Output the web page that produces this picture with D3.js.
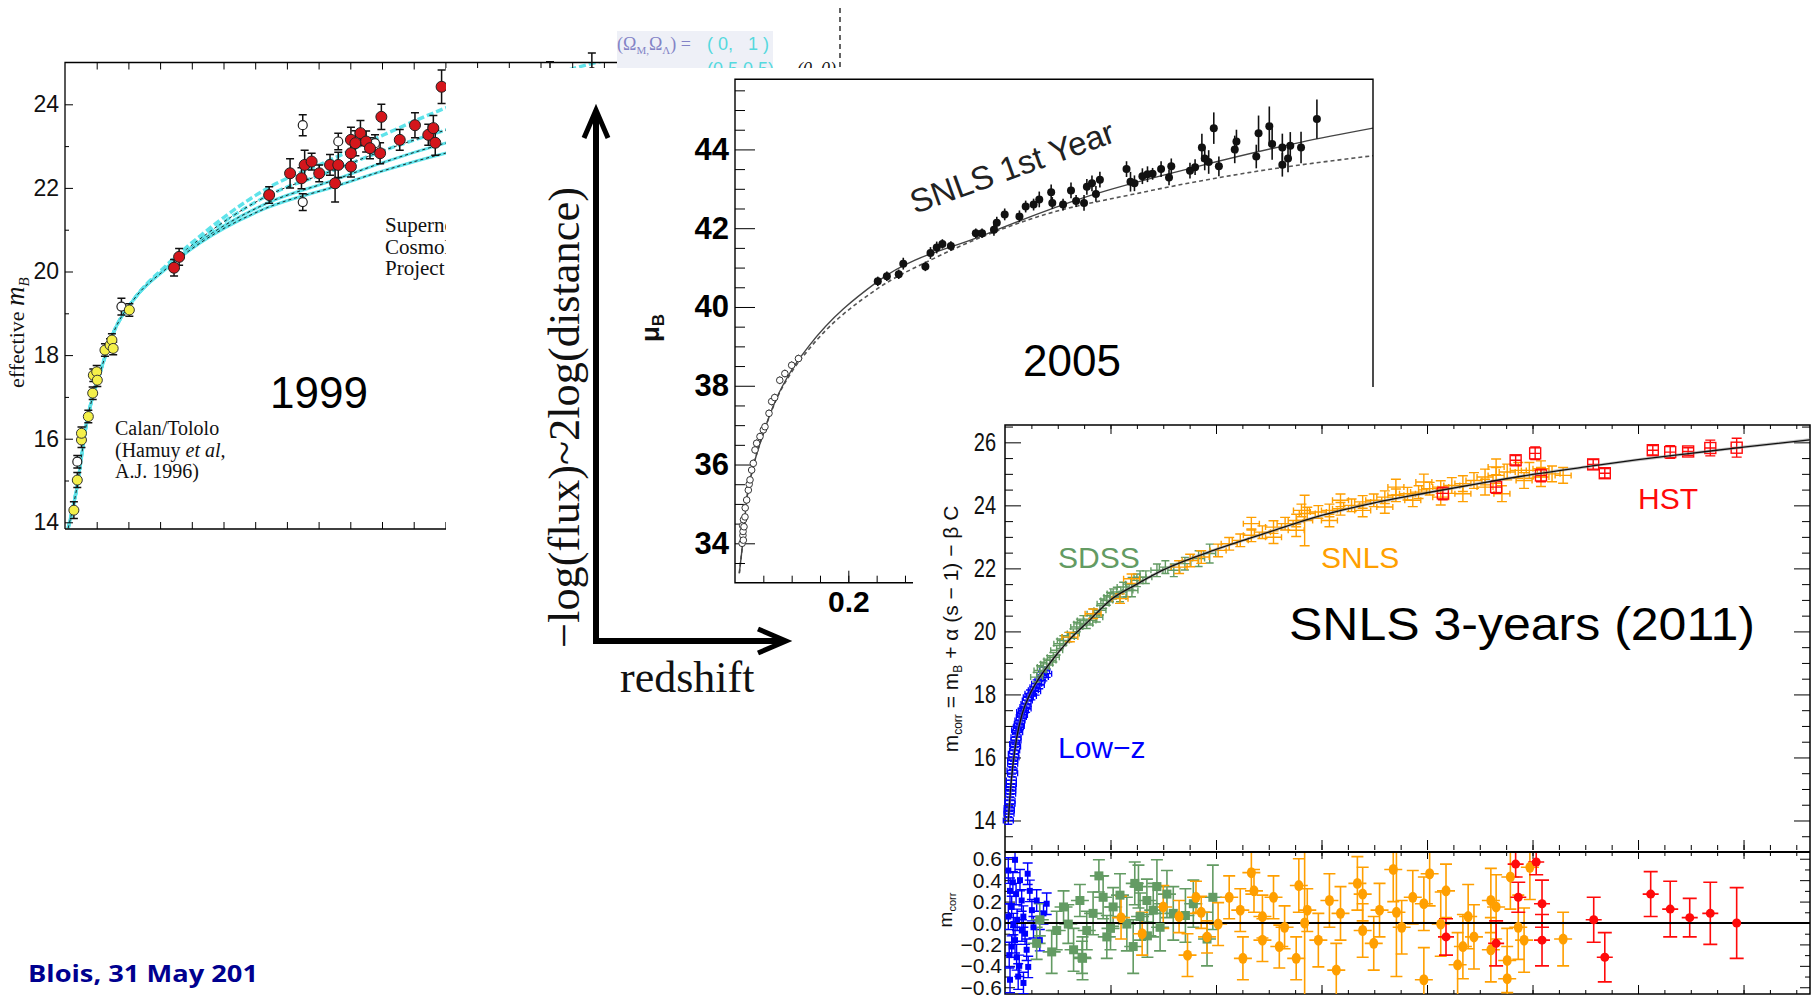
<!DOCTYPE html>
<html>
<head>
<meta charset="utf-8">
<title>Hubble diagrams 1999 - 2005 - 2011</title>
<script src="https://cdn.jsdelivr.net/npm/d3@7"></script>
<style>
  body { margin: 0; background: #ffffff; }
  #slide svg { display: block; }
</style>
</head>
<body>
<div id="slide"></div>
<script>
/* ---------- panel A : 1999, effective m_B vs redshift ---------- */
// [z, m_B, error]
var ctPoints = [[0.014,14.29,0.2],[0.0194,15.01,0.18],[0.026,15.97,0.18],[0.026,16.13,0.15],[0.0368,16.53,0.15],
  [0.0437,17.09,0.15],[0.0447,17.52,0.15],[0.050,17.60,0.15],[0.051,17.40,0.15],[0.063,18.12,0.15],
  [0.071,18.24,0.15],[0.074,18.36,0.15],[0.076,18.16,0.15],[0.1015,19.08,0.15]];
var scpPoints = [[0.172,20.09,0.2],[0.180,20.35,0.2],[0.322,21.83,0.2],[0.355,22.35,0.35],[0.373,22.23,0.25],
  [0.378,22.55,0.35],[0.389,22.63,0.2],[0.401,22.35,0.2],[0.418,22.55,0.25],[0.426,22.11,0.45],
  [0.431,22.55,0.3],[0.451,22.51,0.25],[0.451,22.83,0.3],[0.451,23.15,0.3],[0.458,23.07,0.3],
  [0.466,23.31,0.3],[0.475,23.11,0.25],[0.481,22.95,0.25],[0.497,22.83,0.25],[0.499,23.70,0.3],
  [0.528,23.15,0.25],[0.552,23.50,0.3],[0.573,23.27,0.25],[0.581,23.43,0.3],[0.584,23.08,0.3],
  [0.594,24.42,0.4],[0.765,24.60,0.42],[0.831,24.75,0.48]];
var openA = [[0.0194,15.45,0.15],[0.089,19.16,0.2],[0.375,23.50,0.25],[0.375,21.66,0.2],[0.431,23.11,0.2],[0.489,23.07,0.2]];
var curveAZ = [0.005,0.018,0.034,0.055,0.076,0.108,0.16,0.213,0.318,0.423,0.5,0.6,0.8,1.0];
var curveA1 = [13.86,14.77,16.37,17.56,18.52,19.32,20.15,20.85,21.98,22.70,23.25,23.91,24.85,25.55];
var curveA2 = [13.86,14.77,16.37,17.56,18.52,19.32,20.12,20.78,21.80,22.42,22.88,23.38,24.20,24.85];
var curveA3 = [13.86,14.77,16.37,17.56,18.52,19.32,20.09,20.72,21.63,22.18,22.60,23.07,23.75,24.30];
var curveA4 = [13.86,14.77,16.37,17.56,18.52,19.32,20.07,20.68,21.52,22.02,22.40,22.83,23.42,23.90];
var ticksA = [14,16,18,20,22,24];

/* ---------- panel B : 2005, SNLS 1st year ---------- */
var snls1Points = [[0.252,40.65,0.12],[0.268,40.78,0.12],[0.289,40.83,0.12],[0.297,41.10,0.15],[0.336,41.03,0.12],
  [0.345,41.37,0.15],[0.356,41.51,0.15],[0.366,41.60,0.12],[0.381,41.55,0.12],[0.425,41.87,0.12],
  [0.436,41.87,0.12],[0.457,41.96,0.15],[0.462,42.14,0.15],[0.476,42.35,0.15],[0.502,42.30,0.15],
  [0.513,42.55,0.15],[0.527,42.60,0.15],[0.537,42.73,0.2],[0.560,42.64,0.15],[0.558,42.91,0.2],
  [0.579,42.60,0.15],[0.593,42.96,0.2],[0.602,42.69,0.15],[0.616,42.64,0.2],[0.621,43.05,0.2],
  [0.630,43.14,0.2],[0.637,42.87,0.2],[0.644,43.23,0.2],[0.691,43.50,0.2],[0.698,43.18,0.25],
  [0.705,43.14,0.2],[0.719,43.32,0.2],[0.728,43.37,0.2],[0.737,43.38,0.15],[0.752,43.50,0.2],
  [0.766,43.29,0.2],[0.770,43.57,0.2],[0.803,43.46,0.2],[0.812,43.55,0.2],[0.824,44.05,0.35],
  [0.829,43.77,0.3],[0.836,43.68,0.3],[0.845,44.54,0.4],[0.854,43.57,0.25],[0.882,44.00,0.35],
  [0.885,44.20,0.3],[0.920,43.82,0.3],[0.924,44.41,0.45],[0.943,44.59,0.5],[0.948,44.14,0.4],
  [0.966,44.05,0.35],[0.966,43.61,0.3],[0.976,43.77,0.35],[0.980,44.09,0.35],[0.999,44.05,0.4],
  [1.027,44.77,0.5]];
var nearbyPoints = [[0.0125,34.0,0.1],[0.0135,34.45,0.1],[0.014,34.2,0.1],[0.0142,34.3,0.1],[0.0147,34.08,0.1],
  [0.015,34.6,0.1],[0.0159,34.42,0.1],[0.0176,34.67,0.1],[0.018,34.9,0.1],[0.0206,35.10,0.1],
  [0.0235,35.35,0.1],[0.025,35.5,0.1],[0.0265,35.61,0.1],[0.0294,35.86,0.1],[0.0323,36.03,0.1],
  [0.0353,36.37,0.1],[0.0382,36.54,0.1],[0.0441,36.71,0.1],[0.05,36.88,0.1],[0.0529,36.96,0.1],
  [0.06,37.3,0.1],[0.0647,37.6,0.1],[0.07,37.7,0.1],[0.079,38.14,0.1],[0.088,38.31,0.1],
  [0.10,38.52,0.1],[0.112,38.69,0.1]];
var curveBZ = [0.0076,0.0135,0.0206,0.0323,0.05,0.072,0.10,0.13,0.252,0.438,0.625,0.812,0.998,1.126];
var curveBSolid = [33.24,34.0,35.1,35.94,36.79,37.64,38.4,39.0,40.65,41.82,42.82,43.55,44.18,44.54];
var curveBDashZ = [0.0076,0.0135,0.0206,0.0323,0.05,0.072,0.10,0.13,0.252,0.345,0.532,0.719,0.906,1.126];
var curveBDash = [33.24,34.0,35.1,35.94,36.79,37.62,38.35,38.92,40.47,41.19,42.28,42.91,43.41,43.84];
var ticksB = [34,36,38,40,42,44];

/* ---------- panel C : 2011, SNLS 3 years ---------- */
var lowzTop = [[0.0063,14.00,0.12],[0.0075,14.21,0.12],[0.008,14.4,0.12],[0.0082,14.32,0.12],[0.0095,14.53,0.12],
  [0.0095,14.63,0.12],[0.0107,14.85,0.12],[0.011,15.05,0.12],[0.0107,14.95,0.12],[0.012,15.16,0.12],
  [0.012,15.27,0.12],[0.0133,15.59,0.12],[0.0145,15.5,0.12],[0.0145,15.80,0.12],[0.0145,15.90,0.12],
  [0.0158,16.12,0.12],[0.017,16.0,0.12],[0.0183,16.22,0.12],[0.0183,16.43,0.12],[0.02,16.35,0.12],
  [0.0209,16.54,0.12],[0.0209,16.64,0.12],[0.0221,16.86,0.12],[0.024,16.8,0.12],[0.0253,16.96,0.12],
  [0.027,17.0,0.12],[0.0272,17.07,0.12],[0.0284,17.17,0.12],[0.031,17.28,0.12],[0.033,17.35,0.12],
  [0.0316,17.44,0.12],[0.0348,17.49,0.12],[0.0379,17.60,0.12],[0.04,17.55,0.12],[0.0398,17.70,0.12],
  [0.0423,17.81,0.12],[0.0442,17.91,0.12],[0.0474,18.02,0.12],[0.05,17.95,0.12],[0.0537,18.13,0.12],
  [0.058,18.1,0.12],[0.0569,18.23,0.12],[0.06,18.34,0.12],[0.065,18.3,0.12],[0.0664,18.44,0.12],
  [0.07,18.6,0.12],[0.0727,18.55,0.12],[0.075,18.75,0.12],[0.079,18.66,0.12]];
var sdssTop = [[0.060,18.55,0.15],[0.0664,18.76,0.15],[0.0727,18.87,0.15],[0.079,18.97,0.15],[0.0853,19.08,0.15],
  [0.0916,19.18,0.15],[0.098,19.40,0.15],[0.104,19.61,0.15],[0.1106,19.71,0.15],[0.120,19.82,0.15],
  [0.1295,19.93,0.15],[0.136,20.14,0.15],[0.142,20.24,0.15],[0.1485,20.35,0.15],[0.155,20.24,0.15],
  [0.161,20.35,0.15],[0.167,20.56,0.15],[0.174,20.45,0.15],[0.180,20.67,0.15],[0.186,20.88,0.15],
  [0.193,20.98,0.15],[0.199,21.09,0.15],[0.205,21.20,0.15],[0.212,21.25,0.15],[0.218,21.09,0.15],
  [0.224,21.41,0.15],[0.231,21.30,0.2],[0.240,21.51,0.2],[0.2406,21.30,0.2],[0.250,21.62,0.2],
  [0.256,21.72,0.2],[0.267,21.72,0.2],[0.288,21.94,0.2],[0.304,22.04,0.2],[0.320,21.94,0.2],
  [0.341,22.15,0.2],[0.367,22.31,0.25],[0.388,22.47,0.3]];
var snlsTop = [[0.123,19.82,0.15],[0.167,20.56,0.15],[0.218,21.04,0.15],[0.240,21.67,0.15],
  [0.330,22.04,0.2],[0.351,22.25,0.2],[0.372,22.36,0.2],[0.404,22.57,0.2],[0.425,22.78,0.2],
  [0.446,22.89,0.2],[0.467,23.05,0.2],[0.488,23.15,0.2],[0.509,23.31,0.2],[0.531,23.42,0.2],
  [0.552,23.52,0.2],[0.573,23.74,0.2],[0.594,23.79,0.2],[0.615,23.84,0.2],[0.636,23.89,0.2],
  [0.657,24.00,0.2],[0.678,24.11,0.2],[0.699,24.16,0.2],[0.720,24.26,0.2],[0.741,24.32,0.2],
  [0.763,24.37,0.2],[0.784,24.42,0.2],[0.805,24.53,0.2],[0.826,24.58,0.2],[0.847,24.63,0.25],
  [0.868,24.69,0.25],[0.889,24.79,0.25],[0.910,24.90,0.25],[0.931,24.95,0.25],[0.952,25.06,0.25],
  [0.973,25.11,0.25],[0.994,25.11,0.25],[1.016,25.16,0.25],[1.037,25.00,0.25],[1.058,24.95,0.25],
  [0.467,23.42,0.2],[0.509,22.99,0.2],[0.552,23.21,0.2],[0.568,23.52,0.8],[0.562,23.84,0.2],
  [0.615,23.52,0.2],[0.636,24.16,0.2],[0.678,23.84,0.2],[0.720,23.95,0.2],[0.741,24.58,0.25],
  [0.773,24.16,0.2],[0.794,24.74,0.25],[0.826,24.26,0.25],[0.868,24.37,0.25],[0.910,24.58,0.25],
  [0.931,25.22,0.25],[0.942,24.37,0.25],[0.984,24.79,0.25],[1.016,24.90,0.3]];
var hstTop = [[0.83,24.38,0.2],[0.931,24.58,0.2],[0.968,25.43,0.15],[1.005,25.65,0.2],[1.016,24.95,0.2],
  [1.115,25.30,0.15],[1.137,25.02,0.15],[1.228,25.75,0.15],[1.261,25.69,0.2],[1.295,25.71,0.12],
  [1.337,25.82,0.25],[1.387,25.83,0.3]];
var curveCZ = [0.006,0.01,0.015,0.022,0.032,0.047,0.066,0.09,0.12,0.16,0.2,0.25,0.3,0.4,0.5,0.6,0.7,0.8,0.9,1.0,1.1,1.2,1.3,1.4,1.526];
var curveCM = [13.95,14.9,15.75,16.6,17.35,18.0,18.55,19.1,19.7,20.35,21.0,21.5,21.95,22.6,23.15,23.68,24.08,24.4,24.7,24.98,25.22,25.45,25.65,25.85,26.08];
var ticksC = [14,16,18,20,22,24,26];

// residuals [z, delta m, error]
var lowzRes = [[0.0063,0.49,0.12],[0.0095,0.30,0.12],[0.0127,0.15,0.1],[0.0158,-0.01,0.1],[0.019,-0.16,0.12],
  [0.022,-0.32,0.12],[0.025,-0.50,0.12],[0.0284,0.40,0.1],[0.0316,0.21,0.1],[0.0348,0.06,0.1],
  [0.038,-0.10,0.1],[0.041,-0.25,0.1],[0.044,-0.41,0.1],[0.047,0.30,0.1],[0.051,0.12,0.1],
  [0.054,-0.04,0.1],[0.06,0.21,0.1],[0.066,-0.16,0.1],[0.073,0.09,0.1],[0.079,0.18,0.1],
  [0.0095,-0.53,0.12],[0.019,0.59,0.12],[0.035,-0.56,0.1],[0.0127,-0.22,0.1],[0.023,0.03,0.1],
  [0.043,0.46,0.1],[0.032,-0.07,0.1],[0.0063,0.06,0.12],[0.021,0.27,0.1],[0.015,0.38,0.1],
  [0.027,-0.40,0.1],[0.008,-0.30,0.12]];
var sdssRes = [[0.060,-0.19,0.15],[0.066,0.03,0.15],[0.0885,-0.27,0.2],[0.098,-0.07,0.18],[0.111,0.15,0.15],
  [0.120,-0.01,0.18],[0.130,-0.25,0.2],[0.142,0.21,0.15],[0.147,-0.33,0.2],[0.155,-0.07,0.18],
  [0.167,0.09,0.2],[0.178,0.44,0.15],[0.186,0.24,0.2],[0.193,-0.13,0.2],[0.205,0.15,0.18],
  [0.218,0.26,0.2],[0.231,-0.01,0.25],[0.243,-0.22,0.25],[0.253,0.34,0.2],[0.256,0.06,0.22],
  [0.269,0.21,0.2],[0.281,0.12,0.25],[0.288,0.34,0.25],[0.294,-0.04,0.22],[0.307,0.27,0.22],
  [0.319,0.09,0.25],[0.342,0.07,0.25],[0.357,0.18,0.22],[0.383,-0.15,0.25],[0.394,0.24,0.3],
  [0.146,-0.32,0.15],[0.246,0.37,0.2],[0.27,-0.12,0.2],[0.2,-0.05,0.2]];
var snlsRes = [[0.467,0.47,0.2],[0.472,0.30,0.2],[0.451,-0.33,0.2],[0.346,-0.30,0.2],[0.552,-0.33,0.2],
  [0.628,-0.44,0.25],[0.557,0.35,0.25],[0.736,0.50,0.3],[0.805,0.46,0.3],[0.794,-0.53,0.3],
  [0.858,-0.39,0.3],[0.952,-0.52,0.3],[0.952,-0.35,0.3],[1.058,-0.15,0.25],[0.958,0.43,0.3],
  [0.995,0.52,0.3],[0.362,0.24,0.15],[0.425,0.24,0.2],[0.509,0.24,0.2],[0.668,0.37,0.25],
  [0.71,0.12,0.25],[0.773,0.24,0.25],[0.878,0.06,0.3],[0.921,0.21,0.3],[0.383,-0.13,0.15],
  [0.404,-0.01,0.2],[0.488,0.06,0.2],[0.53,-0.04,0.2],[0.594,-0.16,0.25],[0.636,0.09,0.25],
  [0.678,-0.07,0.25],[0.752,-0.04,0.25],[0.826,-0.01,0.3],[0.889,-0.13,0.3],[0.931,0.15,0.3],
  [0.973,-0.04,0.3],[0.615,0.21,0.25],[0.573,0.12,0.2],[0.446,0.12,0.2],[0.52,-0.22,0.2],
  [0.699,-0.19,0.25],[0.868,-0.22,0.3],[0.794,0.18,0.25],[0.921,-0.25,0.3],[0.984,-0.16,0.3],
  [0.488,-0.16,0.2],[0.678,0.27,0.25],[0.836,0.30,0.25],[0.372,0.10,0.15],[0.33,0.06,0.15],
  [0.568,0.0,0.7],[0.742,0.1,0.6],[0.22,0.05,0.2],[0.26,-0.1,0.2],[0.3,0.15,0.2]];
var hstRes = [[0.968,0.55,0.12],[1.007,0.57,0.12],[0.973,0.24,0.14],[1.018,0.18,0.22],[1.018,-0.16,0.24],
  [0.931,-0.19,0.21],[0.836,-0.13,0.17],[1.116,0.03,0.21],[1.137,-0.32,0.23],[1.224,0.27,0.21],
  [1.261,0.13,0.26],[1.298,0.05,0.18],[1.337,0.09,0.29],[1.387,0.0,0.33]];
var ticksRes = [-0.6,-0.4,-0.2,0,0.2,0.4,0.6];

var W = 1812, H = 999;
var serif = "'Liberation Serif', 'Times New Roman', serif";
var sans = "'Liberation Sans', Arial, Helvetica, sans-serif";

var svg = d3.select("#slide").append("svg")
    .attr("width", W)
    .attr("height", H)
    .style("font-family", sans);

svg.append("rect").attr("width", W).attr("height", H).attr("fill", "#fff");
var defs = svg.append("defs");

// axis helper: ticks only, no domain line
function tickAxis(g, axisFn, scale, values, size, fmt, tx, ty, pad) {
  var axis = axisFn(scale).tickValues(values).tickSize(size).tickSizeOuter(0)
      .tickPadding(pad || 3).tickFormat(fmt || "");
  var sel = g.append("g")
      .attr("transform", "translate(" + tx + "," + ty + ")")
      .call(axis);
  sel.select(".domain").remove();
  sel.selectAll("line").attr("stroke", "#000");
  if (!fmt) sel.selectAll("text").remove();
  return sel;
}

// vertical error bars with caps, optional horizontal bar with end caps
function errorBars(g, rows, xs, ys, color, o) {
  g.append("g").selectAll("path").data(rows).join("path")
      .attr("d", function(r) {
        var cx = xs(r[0]), cy = ys(r[1]), t = ys(r[1] + r[2]), b = ys(r[1] - r[2]);
        var p = "M" + cx + "," + t + "V" + b;
        if (o.cap) p += "M" + (cx - o.cap) + "," + t + "H" + (cx + o.cap) +
                        "M" + (cx - o.cap) + "," + b + "H" + (cx + o.cap);
        if (o.hw) p += "M" + (cx - o.hw) + "," + cy + "H" + (cx + o.hw) +
                       "M" + (cx - o.hw) + "," + (cy - o.hc) + "V" + (cy + o.hc) +
                       "M" + (cx + o.hw) + "," + (cy - o.hc) + "V" + (cy + o.hc);
        return p;
      })
      .attr("fill", "none")
      .attr("stroke", color)
      .attr("stroke-width", o.sw || 1.3);
}

function zipCurve(zs, ms) {
  return zs.map(function(z, i) { return [z, ms[i]]; });
}

/* ================= panel A ================= */
var xA = d3.scaleLinear().domain([0, 1]).range([65, 699]);
var yA = d3.scaleLinear().domain([13.84, 25]).range([529, 62.5]);
var gA = svg.append("g");

defs.append("clipPath").attr("id", "clipA").append("rect")
    .attr("x", xA(0)).attr("y", yA(25)).attr("width", xA(1) - xA(0)).attr("height", yA(13.84) - yA(25));

var lineA = d3.line().x(d => xA(d[0])).y(d => yA(d[1])).curve(d3.curveMonotoneX);
[curveA1, curveA2, curveA3, curveA4].forEach(function(c, i) {
  gA.append("path")
      .attr("d", lineA(zipCurve(curveAZ, c)))
      .attr("clip-path", "url(#clipA)")
      .attr("fill", "none")
      .attr("stroke", "#5fe3ea")
      .attr("stroke-width", i < 2 ? 3.4 : 3)
      .attr("stroke-dasharray", i < 2 ? "7,3" : null);
  if (i >= 1) {
    gA.append("path")
        .attr("d", lineA(zipCurve(curveAZ, c)))
        .attr("clip-path", "url(#clipA)")
        .attr("fill", "none")
        .attr("stroke", "#111")
        .attr("stroke-width", 0.9)
        .attr("stroke-dasharray", "3,3");
  }
});

// frame and ticks
gA.append("path")
    .attr("d", "M" + xA(0) + "," + yA(13.84) + "V" + yA(25) + "H" + xA(1) + "V" + yA(13.84) + "H" + xA(0))
    .attr("fill", "none").attr("stroke", "#000").attr("stroke-width", 1.3);
var zTicksA = d3.range(0.05, 1.0, 0.05);
tickAxis(gA, d3.axisBottom, xA, zTicksA, -7, null, 0, yA(13.84));
tickAxis(gA, d3.axisTop, xA, zTicksA, -7, null, 0, yA(25));
tickAxis(gA, d3.axisLeft, yA, d3.range(15, 25, 2), -4, null, xA(0), 0);
var axA = tickAxis(gA, d3.axisLeft, yA, ticksA, -8, d3.format("d"), xA(0), 0, 6);
axA.selectAll("text").attr("font-size", 23).attr("font-family", sans).attr("fill", "#111");

errorBars(gA, ctPoints.concat(scpPoints).concat(openA), xA, yA, "#111", {cap: 4, sw: 1.5});
gA.append("g").selectAll("circle").data(openA).join("circle")
    .attr("cx", d => xA(d[0])).attr("cy", d => yA(d[1])).attr("r", 4.5)
    .attr("fill", "#fff").attr("stroke", "#222").attr("stroke-width", 1.2);
gA.append("g").selectAll("circle").data(ctPoints).join("circle")
    .attr("cx", d => xA(d[0])).attr("cy", d => yA(d[1])).attr("r", 5)
    .attr("fill", "#f4f04a").attr("stroke", "#333").attr("stroke-width", 1);
gA.append("g").selectAll("circle").data(scpPoints).join("circle")
    .attr("cx", d => xA(d[0])).attr("cy", d => yA(d[1])).attr("r", 5.5)
    .attr("fill", "#d4161c").attr("stroke", "#222").attr("stroke-width", 1);

// texts inside panel A
var labA = svg.append("text")
    .attr("transform", "translate(24,388) rotate(-90)")
    .attr("font-family", serif).attr("font-size", 22).attr("fill", "#111");
labA.append("tspan").text("effective  ");
labA.append("tspan").attr("font-style", "italic").attr("font-size", 27).text("m");
labA.append("tspan").attr("font-style", "italic").attr("font-size", 15).attr("dy", 5).text("B");

var calan = svg.append("g").attr("font-family", serif).attr("font-size", 20).attr("fill", "#111");
calan.append("text").attr("x", 115).attr("y", 435).text("Calan/Tololo");
var ham = calan.append("text").attr("x", 115).attr("y", 457);
ham.append("tspan").text("(Hamuy ");
ham.append("tspan").attr("font-style", "italic").text("et al,");
calan.append("text").attr("x", 115).attr("y", 478).text("A.J. 1996)");

var scpLab = svg.append("g").attr("font-family", serif).attr("font-size", 21).attr("fill", "#111");
["Supernova", "Cosmology", "Project"].forEach(function(t, i) {
  scpLab.append("text").attr("x", 385).attr("y", 232 + i * 21.5).text(t);
});

svg.append("text").attr("x", 270).attr("y", 408)
    .attr("font-size", 44).attr("fill", "#000").text("1999");

// legend of the 1999 figure (partly hidden)
var leg = svg.append("g").attr("font-family", serif).attr("font-size", 18);
leg.append("rect").attr("x", 617).attr("y", 31).attr("width", 156).attr("height", 37).attr("fill", "#eef0f7");
var lt = leg.append("text").attr("x", 617).attr("y", 50).attr("fill", "#8383c6");
lt.append("tspan").text("(Ω");
lt.append("tspan").attr("font-size", 11).attr("dy", 4).text("M,");
lt.append("tspan").attr("dy", -4).text("Ω");
lt.append("tspan").attr("font-size", 11).attr("dy", 4).text("Λ");
lt.append("tspan").attr("dy", -4).text(") =");
leg.append("text").attr("x", 707).attr("y", 50).attr("fill", "#55d9de")
    .attr("font-family", sans).style("white-space", "pre").text("( 0,   1 )");
leg.append("text").attr("x", 707).attr("y", 75).attr("fill", "#55d9de")
    .attr("font-family", sans).text("(0.5,0.5)");
leg.append("text").attr("x", 797).attr("y", 75).attr("fill", "#111")
    .attr("font-style", "italic").text("(0, 0)");
leg.append("path").attr("d", "M840,8V68").attr("stroke", "#111")
    .attr("stroke-width", 1.3).attr("stroke-dasharray", "5,4");

// white sheet over the right part of the 1999 figure
svg.append("rect").attr("x", 446).attr("y", 68).attr("width", W - 446).attr("height", H - 68).attr("fill", "#fff");

/* ================= schematic arrows ================= */
var arr = svg.append("g").attr("stroke", "#000").attr("fill", "none");
arr.append("path").attr("d", "M596,644V112").attr("stroke-width", 6);
arr.append("path").attr("d", "M593,641H783").attr("stroke-width", 6);
arr.append("path").attr("d", "M584,138L596,110L608,138").attr("stroke-width", 5);
arr.append("path").attr("d", "M758,629L786,641L758,653").attr("stroke-width", 5);

svg.append("text")
    .attr("transform", "translate(579,648) rotate(-90)")
    .attr("font-family", serif).attr("font-size", 45).attr("fill", "#111")
    .attr("textLength", 461).attr("lengthAdjust", "spacingAndGlyphs")
    .text("−log(flux)~2log(distance)");
svg.append("text").attr("x", 620).attr("y", 692)
    .attr("font-family", serif).attr("font-size", 44).attr("fill", "#111")
    .text("redshift");

/* ================= panel B ================= */
var xB = d3.scaleLinear().domain([0, 1.126]).range([735, 1373]);
var yB = d3.scaleLinear().domain([33.0, 45.78]).range([582.7, 79.3]);
var gB = svg.append("g");

defs.append("clipPath").attr("id", "clipB").append("rect")
    .attr("x", xB(0)).attr("y", yB(45.78)).attr("width", xB(1.126) - xB(0)).attr("height", yB(33) - yB(45.78));

var lineB = d3.line().x(d => xB(d[0])).y(d => yB(d[1])).curve(d3.curveMonotoneX);
gB.append("path").attr("d", lineB(zipCurve(curveBDashZ, curveBDash)))
    .attr("clip-path", "url(#clipB)").attr("fill", "none")
    .attr("stroke", "#555").attr("stroke-width", 1.6).attr("stroke-dasharray", "4,3");
gB.append("path").attr("d", lineB(zipCurve(curveBZ, curveBSolid)))
    .attr("clip-path", "url(#clipB)").attr("fill", "none")
    .attr("stroke", "#444").attr("stroke-width", 1.4);

gB.append("path")
    .attr("d", "M" + xB(1.126) + "," + yB(33) + "V" + yB(45.78) + "H" + xB(0) + "V" + yB(33) + "H" + xB(1.126))
    .attr("fill", "none").attr("stroke", "#000").attr("stroke-width", 1.4);
tickAxis(gB, d3.axisLeft, yB, d3.range(33.5, 45.8, 0.5).filter(v => v % 2 !== 0), -10, null, xB(0), 0);
var axB = tickAxis(gB, d3.axisLeft, yB, ticksB, -20, d3.format("d"), xB(0), 0, 6);
axB.selectAll("text").attr("font-size", 31).attr("font-weight", "bold").attr("font-family", sans).attr("fill", "#000");
tickAxis(gB, d3.axisBottom, xB, d3.range(0.05, 1.1, 0.05), -7, null, 0, yB(33));
// only the 0.2 label is left uncovered by the 2011 figure
tickAxis(gB, d3.axisBottom, xB, [0.4, 0.6, 0.8, 1.0], -12, null, 0, yB(33));
var axBx = tickAxis(gB, d3.axisBottom, xB, [0.2], -12, d3.format(".1f"), 0, yB(33), 8);
axBx.selectAll("text").attr("font-size", 30).attr("font-weight", "bold").attr("font-family", sans).attr("fill", "#000");

errorBars(gB, snls1Points, xB, yB, "#111", {cap: 0, sw: 1.6});
errorBars(gB, nearbyPoints, xB, yB, "#333", {cap: 0, sw: 1});
gB.append("g").selectAll("circle").data(nearbyPoints).join("circle")
    .attr("cx", d => xB(d[0])).attr("cy", d => yB(d[1])).attr("r", 3.3)
    .attr("fill", "#fff").attr("stroke", "#333").attr("stroke-width", 1);
gB.append("g").selectAll("circle").data(snls1Points).join("circle")
    .attr("cx", d => xB(d[0])).attr("cy", d => yB(d[1])).attr("r", 4)
    .attr("fill", "#111");

var mu = svg.append("text").attr("transform", "translate(659,328) rotate(-90)")
    .attr("text-anchor", "middle").attr("font-size", 26).attr("font-weight", "bold").attr("fill", "#111");
mu.append("tspan").text("μ");
mu.append("tspan").attr("font-size", 17).attr("dy", 5).text("B");

svg.append("text").attr("transform", "translate(915,214) rotate(-19.8)")
    .attr("font-size", 33).attr("fill", "#222").text("SNLS 1st Year");
svg.append("text").attr("x", 1023).attr("y", 376)
    .attr("font-size", 44).attr("fill", "#000").text("2005");

// white sheet under the 2011 figure
svg.append("rect").attr("x", 913).attr("y", 387).attr("width", W - 913).attr("height", H - 387).attr("fill", "#fff");

/* ================= panel C ================= */
var xC = d3.scaleLinear().domain([0, 1.526]).range([1005, 1810]);
var yC = d3.scaleLinear().domain([13.0, 26.55]).range([852, 425]);
var yR = d3.scaleLinear().domain([-0.663, 0.663]).range([994, 852]);
var gC = svg.append("g");

var orange = "#ff9f00", green = "#639b63", blue = "#0000ff", red = "#ff0a0a";

// frames
gC.append("rect").attr("x", 1005).attr("y", 425).attr("width", 805).attr("height", 569)
    .attr("fill", "none").attr("stroke", "#000").attr("stroke-width", 1.5);
gC.append("path").attr("d", "M1005,852H1810").attr("stroke", "#000").attr("stroke-width", 2);

var zMinor = d3.range(0.05, 1.52, 0.05), zMajor = d3.range(0.2, 1.52, 0.2);
tickAxis(gC, d3.axisTop, xC, zMinor, -4, null, 0, 425);
tickAxis(gC, d3.axisTop, xC, zMajor, -9, null, 0, 425);
tickAxis(gC, d3.axisBottom, xC, zMinor, -5, null, 0, 850);
tickAxis(gC, d3.axisBottom, xC, zMajor, -10, null, 0, 850);
tickAxis(gC, d3.axisTop, xC, zMinor, -3, null, 0, 853);
tickAxis(gC, d3.axisTop, xC, zMajor, -6, null, 0, 853);
tickAxis(gC, d3.axisBottom, xC, zMinor, -4, null, 0, 994);
tickAxis(gC, d3.axisBottom, xC, zMajor, -9, null, 0, 994);

var mMinor = d3.range(13.5, 26.6, 0.5).filter(v => v % 2 !== 0);
tickAxis(gC, d3.axisLeft, yC, mMinor, -8, null, 1005, 0);
tickAxis(gC, d3.axisLeft, yC, ticksC, -16, null, 1005, 0);
tickAxis(gC, d3.axisRight, yC, mMinor, -8, null, 1810, 0);
tickAxis(gC, d3.axisRight, yC, ticksC, -16, null, 1810, 0);
var rMinor = [-0.5, -0.3, -0.1, 0.1, 0.3, 0.5];
tickAxis(gC, d3.axisLeft, yR, rMinor, -5, null, 1005, 0);
tickAxis(gC, d3.axisLeft, yR, ticksRes, -10, null, 1005, 0);
tickAxis(gC, d3.axisRight, yR, rMinor, -5, null, 1810, 0);
tickAxis(gC, d3.axisRight, yR, ticksRes, -10, null, 1810, 0);

// condensed tick labels
gC.append("g").selectAll("text").data(ticksC).join("text")
    .attr("transform", d => "translate(996," + yC(d) + ") scale(0.8,1)")
    .attr("text-anchor", "end").attr("dy", "0.36em")
    .attr("font-size", 25).attr("fill", "#111").text(d => d);
gC.append("g").selectAll("text").data(ticksRes).join("text")
    .attr("x", 1002).attr("y", d => yR(d)).attr("dy", "0.36em")
    .attr("text-anchor", "end").attr("font-size", 21).attr("fill", "#111")
    .text(d3.format(".1f"));

// top panel data
var gTop = gC.append("g");
errorBars(gTop, lowzTop, xC, yC, blue, {cap: 4, hw: 5, hc: 3, sw: 1.3});
errorBars(gTop, sdssTop, xC, yC, green, {cap: 4, hw: 6, hc: 3, sw: 1.4});
errorBars(gTop, snlsTop, xC, yC, orange, {cap: 5, hw: 8, hc: 3, sw: 1.4});
errorBars(gTop, hstTop, xC, yC, red, {cap: 5, hw: 5.5, hc: 0, sw: 1.4});
gTop.append("g").selectAll("rect").data(hstTop).join("rect")
    .attr("x", d => xC(d[0]) - 5.5).attr("y", d => yC(d[1]) - 5.5)
    .attr("width", 11).attr("height", 11)
    .attr("fill", "none").attr("stroke", red).attr("stroke-width", 1.4);

var lineC = d3.line().x(d => xC(d[0])).y(d => yC(d[1])).curve(d3.curveMonotoneX);
gTop.append("path").attr("d", lineC(zipCurve(curveCZ, curveCM)))
    .attr("fill", "none").attr("stroke", "#888").attr("stroke-width", 3).attr("opacity", 0.5);
gTop.append("path").attr("d", lineC(zipCurve(curveCZ, curveCM)))
    .attr("fill", "none").attr("stroke", "#111").attr("stroke-width", 1.3);

// residual panel
defs.append("clipPath").attr("id", "clipR").append("rect")
    .attr("x", 1005).attr("y", 853).attr("width", 805).attr("height", 141);
var gRes = gC.append("g").attr("clip-path", "url(#clipR)");
errorBars(gRes, lowzRes, xC, yR, blue, {cap: 5, sw: 1.4});
errorBars(gRes, sdssRes, xC, yR, green, {cap: 6, hw: 9, hc: 0, sw: 1.6});
errorBars(gRes, snlsRes, xC, yR, orange, {cap: 6, hw: 9, hc: 0, sw: 1.6});
errorBars(gRes, hstRes, xC, yR, red, {cap: 7, hw: 8, hc: 0, sw: 1.6});
gRes.append("path").attr("d", "M1005," + yR(0) + "H1810").attr("stroke", "#000").attr("stroke-width", 2);
gRes.append("g").selectAll("rect").data(lowzRes).join("rect")
    .attr("x", d => xC(d[0]) - 3).attr("y", d => yR(d[1]) - 3)
    .attr("width", 6).attr("height", 6).attr("fill", blue);
gRes.append("g").selectAll("rect").data(sdssRes).join("rect")
    .attr("x", d => xC(d[0]) - 4.5).attr("y", d => yR(d[1]) - 4.5)
    .attr("width", 9).attr("height", 9).attr("fill", green);
gRes.append("g").selectAll("ellipse").data(snlsRes).join("ellipse")
    .attr("cx", d => xC(d[0])).attr("cy", d => yR(d[1])).attr("rx", 4.5).attr("ry", 5.5)
    .attr("fill", orange);
gRes.append("g").selectAll("circle").data(hstRes).join("circle")
    .attr("cx", d => xC(d[0])).attr("cy", d => yR(d[1])).attr("r", 4.5)
    .attr("fill", red);

// axis titles and labels of panel C
var labC = svg.append("text").attr("transform", "translate(958,629) rotate(-90)")
    .attr("text-anchor", "middle").attr("font-size", 21).attr("fill", "#111");
labC.append("tspan").text("m");
labC.append("tspan").attr("font-size", 12).attr("dy", 4).text("corr");
labC.append("tspan").attr("dy", -4).text(" = m");
labC.append("tspan").attr("font-size", 12).attr("dy", 4).text("B");
labC.append("tspan").attr("dy", -4).text(" + α (s − 1) − β C");

var labR = svg.append("text").attr("transform", "translate(952,910) rotate(-90)")
    .attr("text-anchor", "middle").attr("font-size", 19).attr("fill", "#111");
labR.append("tspan").text("m");
labR.append("tspan").attr("font-size", 11).attr("dy", 4).text("corr");

svg.append("text").attr("x", 1058).attr("y", 568).attr("font-size", 30).attr("fill", green).text("SDSS");
svg.append("text").attr("x", 1321).attr("y", 568).attr("font-size", 30).attr("fill", orange).text("SNLS");
svg.append("text").attr("x", 1638).attr("y", 509).attr("font-size", 30).attr("fill", red).text("HST");
svg.append("text").attr("x", 1058).attr("y", 758).attr("font-size", 30).attr("fill", blue).text("Low−z");
svg.append("text").attr("x", 1289).attr("y", 640).attr("font-size", 46).attr("fill", "#000")
    .attr("textLength", 466).attr("lengthAdjust", "spacingAndGlyphs")
    .text("SNLS 3-years (2011)");

/* footer */
svg.append("text").attr("x", 28).attr("y", 982)
    .attr("font-family", "'Open Sans', Lato, sans-serif").attr("font-weight", "bold")
    .attr("font-size", 24).attr("fill", "#00008f")
    .attr("textLength", 230).attr("lengthAdjust", "spacingAndGlyphs")
    .text("Blois, 31 May 201");
</script>
</body>
</html>
